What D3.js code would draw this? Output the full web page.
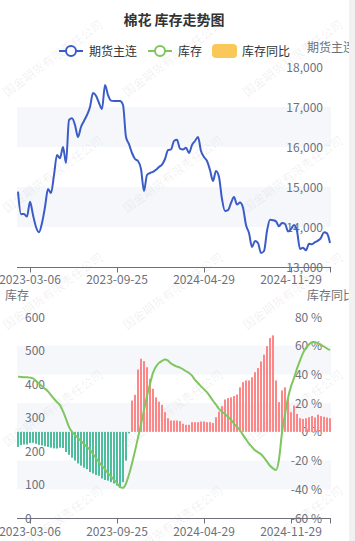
<!DOCTYPE html>
<html><head><meta charset="utf-8">
<script src="https://cdn.jsdelivr.net/npm/d3@7/dist/d3.min.js"></script>
<style>
html,body{margin:0;padding:0;background:#fff;overflow:hidden;}
svg{display:block;font-family:"Noto Sans CJK SC","Noto Sans",sans-serif;}
</style></head>
<body><svg id="c" width="355" height="541"></svg>
<script>
const title = "棉花 库存走势图";
const seriesNames = ["期货主连", "库存", "库存同比"];
const dates = [
"2023-02-06","2023-02-13","2023-02-20","2023-02-27","2023-03-06","2023-03-13","2023-03-20","2023-03-27","2023-04-03","2023-04-10",
"2023-04-17","2023-04-24","2023-05-01","2023-05-08","2023-05-15","2023-05-22","2023-05-29","2023-06-05","2023-06-12","2023-06-19",
"2023-06-26","2023-07-03","2023-07-10","2023-07-17","2023-07-24","2023-07-31","2023-08-07","2023-08-14","2023-08-21","2023-08-28",
"2023-09-04","2023-09-11","2023-09-18","2023-09-25","2023-10-09","2023-10-16","2023-10-23","2023-10-30","2023-11-06","2023-11-13",
"2023-11-20","2023-11-27","2023-12-04","2023-12-11","2023-12-18","2023-12-25","2024-01-01","2024-01-08","2024-01-15","2024-01-22",
"2024-01-29","2024-02-05","2024-02-19","2024-02-26","2024-03-04","2024-03-11","2024-03-18","2024-03-25","2024-04-01","2024-04-08",
"2024-04-15","2024-04-22","2024-04-29","2024-05-06","2024-05-13","2024-05-20","2024-05-27","2024-06-03","2024-06-10","2024-06-17",
"2024-06-24","2024-07-01","2024-07-08","2024-07-15","2024-07-22","2024-07-29","2024-08-05","2024-08-12","2024-08-19","2024-08-26",
"2024-09-02","2024-09-09","2024-09-16","2024-09-23","2024-10-11","2024-10-18","2024-10-25","2024-11-01","2024-11-08","2024-11-15",
"2024-11-22","2024-11-29","2024-12-06","2024-12-13","2024-12-20","2024-12-27","2025-01-03","2025-01-10","2025-01-17","2025-01-24",
"2025-02-07","2025-02-14","2025-02-21","2025-02-28","2025-03-07"];
const xTickLabels = ["2023-03-06","2023-09-25","2024-04-29","2024-11-29"];
const futures = [
14883,14320,14325,14260,14630,14300,14000,13870,14100,14500,
14950,14850,15300,15800,15720,16000,15600,16675,16717,16550,
16250,16500,16650,16800,17000,17350,17280,17100,16950,17550,
17300,17160,17150,17150,17150,17050,16250,16070,15850,15700,
15650,15450,14900,15300,15350,15380,15430,15500,15560,15700,
15920,15940,16150,16180,15960,15940,15980,15850,16050,16150,
16250,15900,15750,15650,15425,15150,15400,15250,14700,14400,
14420,14600,14750,14560,14610,14480,14050,13850,13500,13650,
13600,13350,13400,13900,14180,14170,14140,14020,14100,14080,
13890,13950,14050,13900,13450,13480,13420,13580,13570,13620,
13660,13730,13870,13840,13600];
const inventory = [
422,421,420,420,419,417,409,401,393,386,
378,367,356,346,337,318,296,272,257,248,
239,230,221,212,203,191,179,167,156,145,
134,124,114,104,92,90,103,130,163,200,
240,280,322,364,400,433,452,463,469,473,
470,461,456,452,449,444,438,433,425,412,
403,393,384,375,363,350,338,326,317,310,
302,293,282,272,262,248,235,222,212,202,
196,190,180,168,156,148,143,175,255,310,
358,393,418,446,470,492,508,518,525,525,
522,517,512,506,501];
const yoy = [
-10.5,-9.2,-8.8,-8.8,-7.8,-7.6,-8.3,-9,-9.5,-10,
-10.5,-11,-11.5,-11.6,-11,-11.2,-14,-16,-18,-20,
-22,-23.5,-25,-26,-28,-29,-30,-30.6,-32.5,-33.5,
-34,-35,-36,-37.4,-39,-35,-20,-1,
21.8,25.8,43.4,50.9,49.3,45,37,30,24,21,
18.8,13.7,9.5,7.9,7.9,7.9,7.5,5.6,4.9,4.9,
6.7,6.7,6.7,7.2,7.2,6.7,6.7,6.2,10.2,14.1,
17.9,22.5,
23.5,24,25,26,31,34.6,35.8,35.8,38,41.6,
44.4,49,53.7,59.7,65.3,67.2,35.8,20.7,28.8,31,
23,13.7,18.3,12.5,9.5,9,9.5,10.2,11,10,
12,11,10.5,10,9.5];
const futTicks = [13000,14000,15000,16000,17000,18000];
const invTicks = [0,100,200,300,400,500,600];
const yoyTicks = [-60,-40,-20,0,20,40,60,80];

const C = {blue:"#3b5cc6", green:"#7fc65f", orange:"#fac858", pos:"#fd8686", neg:"#4dbd9e",
  axis:"#6E7079", text:"#333", band:"rgba(210,219,238,0.22)"};

const svg = d3.select("#c");
const L = 17, R = 331;
const x = d3.scalePoint().domain(dates).range([18, 330]);
const yF = d3.scaleLinear().domain([13000, 18000]).range([267, 67]);
const yI = d3.scaleLinear().domain([0, 600]).range([518, 317]);
const yP = d3.scaleLinear().domain([-60, 80]).range([518, 317]);

// watermark
const wm = svg.append("g");
[7,127,247].forEach(sx => [97,213,330,447,563].forEach(sy => {
  wm.append("text").attr("transform", `translate(${sx},${sy}) rotate(-36)`)
    .attr("font-size", 12).attr("fill", "rgba(0,0,0,0.075)").text("国金期货有限责任公司");
}));

// split areas
function bands(ticks, y) {
  for (let i = 1; i < ticks.length - 1 + 1; i++) {
    if (i % 2 === 1) {
      const y0 = y(ticks[i]), y1 = y(ticks[i + 1] !== undefined ? ticks[i + 1] : ticks[i]);
      if (ticks[i + 1] === undefined) continue;
      svg.append("rect").attr("x", L).attr("width", R - L).attr("y", y1).attr("height", y0 - y1).attr("fill", C.band);
    }
  }
}
bands(futTicks, yF);
bands(yoyTicks, yP);

// title
svg.append("text").attr("x", 174).attr("y", 25).attr("text-anchor", "middle")
  .attr("font-size", 14).attr("font-weight", "bold").attr("fill", "#333").text(title);

// legend
const lg = svg.append("g");
function lineIcon(cx, col) {
  lg.append("line").attr("x1", cx - 12).attr("x2", cx + 12).attr("y1", 51).attr("y2", 51).attr("stroke", col).attr("stroke-width", 2);
  lg.append("circle").attr("cx", cx).attr("cy", 51).attr("r", 5).attr("fill", "#fff").attr("stroke", col).attr("stroke-width", 2);
}
lineIcon(71, C.blue);
lg.append("text").attr("x", 89).attr("y", 55.5).attr("font-size", 12).attr("fill", C.text).text(seriesNames[0]);
lineIcon(160, C.green);
lg.append("text").attr("x", 178).attr("y", 55.5).attr("font-size", 12).attr("fill", C.text).text(seriesNames[1]);
lg.append("rect").attr("x", 212).attr("y", 44).attr("width", 25).attr("height", 14).attr("rx", 4).attr("fill", C.orange);
lg.append("text").attr("x", 242).attr("y", 55.5).attr("font-size", 12).attr("fill", C.text).text(seriesNames[2]);

// axis names
svg.append("text").attr("x", 331).attr("y", 51.5).attr("text-anchor", "middle").attr("font-size", 12).attr("fill", C.axis).text(seriesNames[0]);
svg.append("text").attr("x", 17).attr("y", 300).attr("text-anchor", "middle").attr("font-size", 12).attr("fill", C.axis).text(seriesNames[1]);
svg.append("text").attr("x", 331).attr("y", 300).attr("text-anchor", "middle").attr("font-size", 12).attr("fill", C.axis).text(seriesNames[2]);

// y labels
futTicks.forEach(t => svg.append("text").attr("x", 323).attr("y", yF(t) + 4.5).attr("text-anchor", "end")
  .attr("font-size", 12).attr("fill", C.axis).text(d3.format(",")(t)));
invTicks.forEach(t => svg.append("text").attr("x", 25).attr("y", yI(t) + 4.5).attr("text-anchor", "start")
  .attr("font-size", 12).attr("fill", C.axis).text(t));
yoyTicks.forEach(t => svg.append("text").attr("x", 322).attr("y", yP(t) + 4.5).attr("text-anchor", "end")
  .attr("font-size", 12).attr("fill", C.axis).text(t + " %"));

// x axes
function xAxis(yPos, labelY) {
  svg.append("line").attr("x1", L).attr("x2", R).attr("y1", yPos).attr("y2", yPos).attr("stroke", C.axis).attr("stroke-width", 1);
  xTickLabels.forEach(d => {
    const px = Math.round(x(d)) + 0.5;
    svg.append("line").attr("x1", px).attr("x2", px).attr("y1", yPos).attr("y2", yPos + 5).attr("stroke", C.axis);
    svg.append("text").attr("x", x(d)).attr("y", labelY).attr("text-anchor", "middle").attr("font-size", 12).attr("fill", C.axis).text(d);
  });
  svg.append("line").attr("x1", R - 0.5).attr("x2", R - 0.5).attr("y1", yPos).attr("y2", yPos + 5).attr("stroke", C.axis);
}
xAxis(267.5, 284);
xAxis(518.5, 536);

// bars
svg.append("g").selectAll("rect").data(yoy).join("rect")
  .attr("x", (d, i) => x(dates[i]) - 1).attr("width", 2)
  .attr("y", d => yP(Math.max(0, d))).attr("height", d => Math.abs(yP(d) - yP(0)))
  .attr("fill", d => d >= 0 ? C.pos : C.neg);

// lines
const lineF = d3.line().x((d, i) => x(dates[i])).y(d => yF(d)).curve(d3.curveMonotoneX);
svg.append("path").attr("d", lineF(futures)).attr("fill", "none").attr("stroke", C.blue).attr("stroke-width", 2);
const lineI = d3.line().x((d, i) => x(dates[i])).y(d => yI(d)).curve(d3.curveMonotoneX);
svg.append("path").attr("d", lineI(inventory)).attr("fill", "none").attr("stroke", C.green).attr("stroke-width", 2);

// scrollbar strip
svg.append("rect").attr("x", 349).attr("y", 0).attr("width", 6).attr("height", 541).attr("fill", "#f1f1f1");
</script></body></html>
